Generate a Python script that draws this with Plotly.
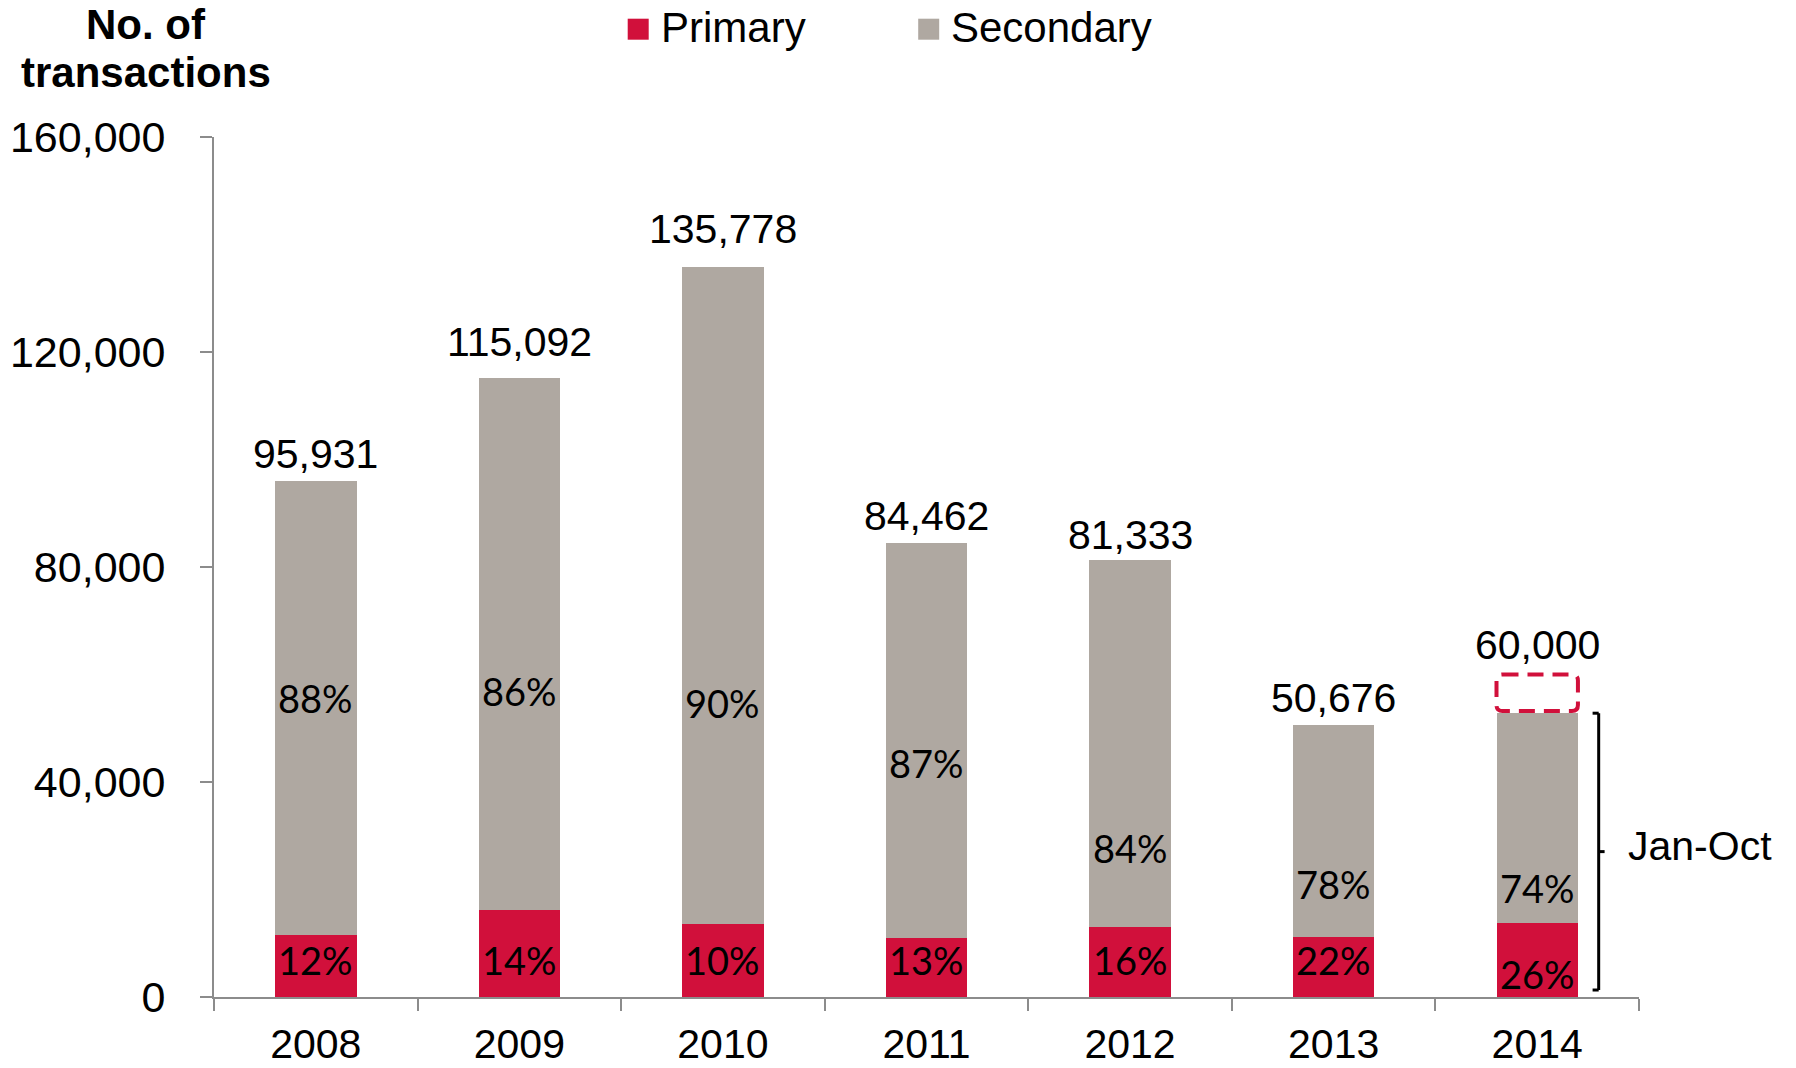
import plotly.graph_objects as go

# ---- data -------------------------------------------------------------
years = ["2008", "2009", "2010", "2011", "2012", "2013", "2014"]
totals = [95931, 115092, 135778, 84462, 81333, 50676, 52800]   # 2014 = Jan-Oct
primary_share = [12, 14, 10, 13, 16, 22, 26]                   # % of total
secondary_share = [88, 86, 90, 87, 84, 78, 74]
total_labels = ["95,931", "115,092", "135,778", "84,462", "81,333", "50,676", "60,000"]
full_year_2014 = 60000

primary = [t * p / 100 for t, p in zip(totals, primary_share)]
secondary = [t - p for t, p in zip(totals, primary)]

# ---- label placement (value-axis units) -------------------------------
total_label_y = [101080, 121940, 142850, 89420, 85920, 55630, 65450]
secondary_label_y = [55600, 57000, 54750, 43500, 27800, 21000, 20300]
primary_label_y = [6880, 6880, 6880, 6880, 6880, 6880, 4240]

# ---- styling ----------------------------------------------------------
RED = "#D1103B"
GREY = "#AFA8A1"
AXIS = "#8C8C8C"
SANS = "Liberation Sans, Arial, sans-serif"
PCT_FONT = "Lato, Carlito, sans-serif"

W, H = 1796, 1068
L, R, T, B = 214.3, 156.7, 137.3, 70.7
PW, PH = W - L - R, H - T - B
Y_MAX = 160000
N_CAT = len(years)
BAR_W = 0.4


def px_x(px):
    return (px - L) / PW


def px_y(py):
    return (H - B - py) / PH


fig = go.Figure()
fig.add_trace(go.Bar(x=years, y=primary, name="Primary", marker_color=RED,
                     marker_line_width=0, showlegend=False, hoverinfo="skip"))
fig.add_trace(go.Bar(x=years, y=secondary, name="Secondary", marker_color=GREY,
                     marker_line_width=0, showlegend=False, hoverinfo="skip"))

annotations = []
for i, yr in enumerate(years):
    annotations.append(dict(x=i, y=total_label_y[i], text=total_labels[i],
                            showarrow=False, xanchor="center", yanchor="middle",
                            font=dict(family=SANS, size=41, color="black")))
    annotations.append(dict(x=i, y=secondary_label_y[i], text=f"{secondary_share[i]}%",
                            showarrow=False, xanchor="center", yanchor="middle",
                            font=dict(family=PCT_FONT, size=38, color="black")))
    annotations.append(dict(x=i, y=primary_label_y[i], text=f"{primary_share[i]}%",
                            showarrow=False, xanchor="center", yanchor="middle",
                            font=dict(family=PCT_FONT, size=38, color="black")))

# axis title, two lines
for line, cy in [("No. of", 25), ("transactions", 73)]:
    annotations.append(dict(xref="paper", yref="paper", x=px_x(146.6), y=px_y(cy),
                            text=f"<b>{line}</b>", showarrow=False,
                            xanchor="center", yanchor="middle",
                            font=dict(family=SANS, size=42, color="black")))

# legend
legend_items = [("Primary", RED, 628.0, 659), ("Secondary", GREY, 918.5, 949)]
shapes = []
for name, col, sq_x, tx in legend_items:
    shapes.append(dict(type="rect", xref="paper", yref="paper",
                       x0=px_x(sq_x), x1=px_x(sq_x + 21),
                       y0=px_y(40), y1=px_y(19),
                       fillcolor=col, line_width=0))
    annotations.append(dict(xref="paper", yref="paper", x=px_x(tx), y=px_y(28),
                            text=name, showarrow=False, xanchor="left", yanchor="middle",
                            font=dict(family=SANS, size=42, color="black")))

# 2014 full-year estimate: dashed rounded outline above the Jan-Oct bar
last = N_CAT - 1
bx0 = (last + 0.5 - BAR_W / 2) / N_CAT
bx1 = (last + 0.5 + BAR_W / 2) / N_CAT
by0 = (totals[-1] + 400) / Y_MAX
by1 = full_year_2014 / Y_MAX
rx, ry = 6 / PW, 6 / PH
box_path = (f"M{bx0 + rx},{by1} L{bx1 - rx},{by1} Q{bx1},{by1} {bx1},{by1 - ry} "
            f"L{bx1},{by0 + ry} Q{bx1},{by0} {bx1 - rx},{by0} "
            f"L{bx0 + rx},{by0} Q{bx0},{by0} {bx0},{by0 + ry} "
            f"L{bx0},{by1 - ry} Q{bx0},{by1} {bx0 + rx},{by1} Z")
shapes.append(dict(type="path", xref="paper", yref="paper", path=box_path,
                   line=dict(color=RED, width=4, dash="16px,9px"),
                   fillcolor="rgba(0,0,0,0)"))

# bracket spanning the Jan-Oct bar
bx, hook, nub = 6.302, 6.272, 6.331
y_lo, y_hi = 1300, totals[-1]
y_mid = (y_lo + y_hi) / 2
for x0, y0, x1, y1 in [(bx, y_lo, bx, y_hi), (hook, y_lo, bx, y_lo),
                       (hook, y_hi, bx, y_hi), (bx, y_mid, nub, y_mid)]:
    shapes.append(dict(type="line", xref="x", yref="y", x0=x0, y0=y0, x1=x1, y1=y1,
                       line=dict(color="black", width=3)))

annotations.append(dict(xref="paper", yref="paper", x=px_x(1626), y=px_y(845.8),
                        text="Jan-Oct", showarrow=False, xanchor="left", yanchor="middle",
                        font=dict(family=SANS, size=41, color="black")))

fig.update_layout(
    width=W, height=H, autosize=False,
    margin=dict(l=L, r=R, t=T, b=B, pad=0),
    paper_bgcolor="white", plot_bgcolor="white",
    barmode="stack", bargap=1 - BAR_W,
    showlegend=False,
    annotations=annotations, shapes=shapes,
    xaxis=dict(type="category", range=[-0.5, N_CAT - 0.5], showline=True, linecolor=AXIS,
               linewidth=2, ticks="outside", tickson="boundaries", ticklen=12,
               tickwidth=2, tickcolor=AXIS, showgrid=False, zeroline=False,
               ticklabelstandoff=10, automargin=False,
               tickfont=dict(family=SANS, size=41, color="black")),
    yaxis=dict(range=[0, Y_MAX], tickvals=[0, 40000, 80000, 120000, 160000],
               tickformat=",", showline=True, linecolor=AXIS, linewidth=2,
               ticks="outside", ticklen=12, tickwidth=2, tickcolor=AXIS,
               showgrid=False, zeroline=False, ticklabelstandoff=26, automargin=False,
               tickfont=dict(family=SANS, size=43, color="black")),
)

fig.write_html("out.html")
